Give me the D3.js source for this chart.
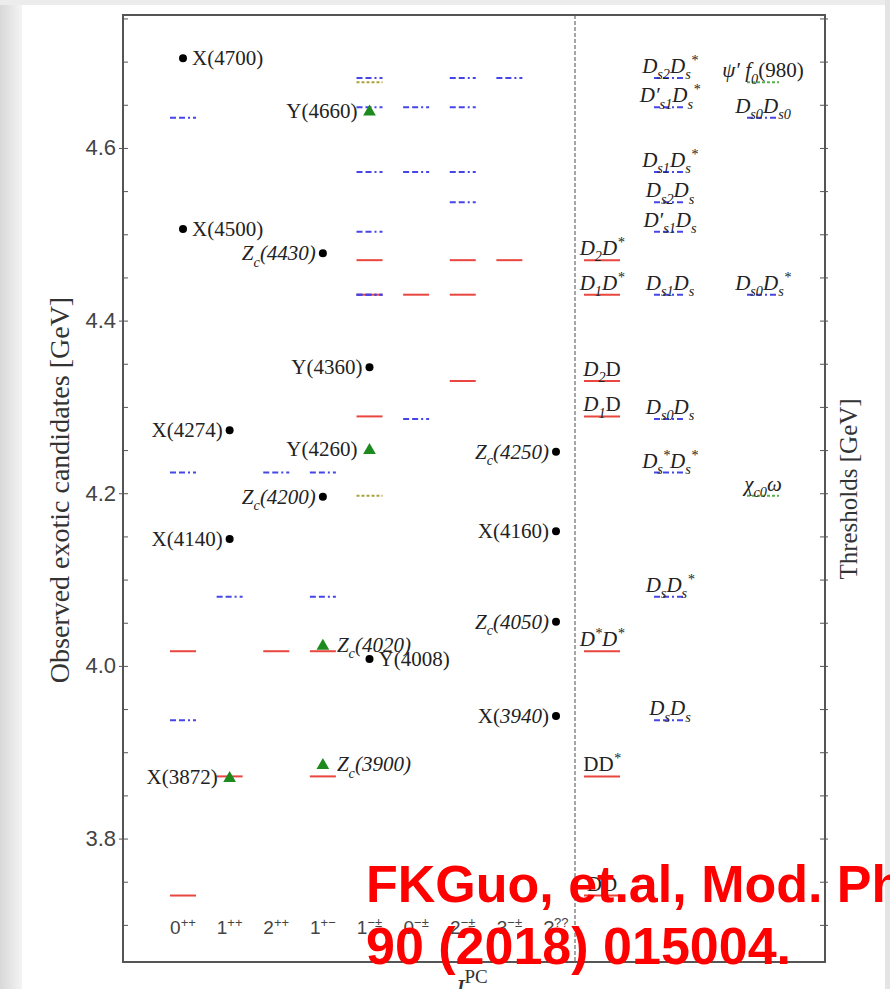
<!DOCTYPE html>
<html>
<head>
<meta charset="UTF-8">
<title>Exotic candidates and thresholds</title>
<script src="https://d3js.org/d3.v7.min.js"></script>
<style>
  body { margin: 0; background: #fff; }
  svg text { font-family: "Liberation Serif", "Times New Roman", serif; fill: #222; }
  .tick text { font-family: "Liberation Sans", Arial, sans-serif; fill: #444; }
  .jpc { font-family: "Liberation Sans", Arial, sans-serif; fill: #444; }
  .stamp { font-family: "Liberation Sans", Arial, sans-serif; font-weight: bold; fill: #f00; }
</style>
</head>
<body>
<svg id="chart" width="890" height="989"></svg>
<script>
// J^PC columns of the left panel
var columns = ["0++", "1++", "2++", "1+-", "1-±", "0-±", "2-±", "3-±", "???"];
var colMain = ["0", "1", "2", "1", "1", "0", "2", "3", "?"];
var colSup  = ["++", "++", "++", "+−", "−±", "−±", "−±", "−±", "??"];

// observed candidates (GeV)
var candName  = ["X(4700)", "X(4500)", "~Z_c(4430)~", "Y(4660)", "Y(4360)", "Y(4260)", "X(4274)", "~Z_c(4200)~", "X(4140)",
                 "~Z_c(4250)~", "X(4160)", "~Z_c(4050)~", "X(~3940~)", "~Z_c(4020)~", "Y(4008)", "X(3872)", "~Z_c(3900)~"];
var candMass  = [4.704, 4.506, 4.478, 4.643, 4.346, 4.251, 4.273, 4.196, 4.147,
                 4.248, 4.156, 4.051, 3.942, 4.024, 4.008, 3.871, 3.886];
var candJPC   = ["0++", "0++", "1+-", "1-±", "1-±", "1-±", "1++", "1+-", "1++",
                 "???", "???", "???", "???", "1+-", "1-±", "1++", "1+-"];
var candShape = ["dot", "dot", "dot", "tri", "dot", "tri", "dot", "dot", "dot",
                 "dot", "dot", "dot", "dot", "tri", "dot", "tri", "tri"];
var candSide  = ["right", "right", "left", "left", "left", "left", "left", "left", "left",
                 "left", "left", "left", "left", "right", "right", "left", "right"];

// thresholds (GeV)
var thrLabel = ["~DD~", "~DD~^*", "D^*D^*", "D_1~D~", "D_2~D~", "D_1D^*", "D_2D^*",
                "D_sD_s", "D_sD_s^*", "D_s^*D_s^*", "D_{s0}D_s", "D_{s1}D_s", "D′_{s1}D_s", "D_{s2}D_s",
                "D_{s1}D_s^*", "D′_{s1}D_s^*", "D_{s2}D_s^*",
                "D_{s0}D_{s0}", "D_{s0}D_s^*", "ψ′ f_0~(980)~", "χ_{c0}ω"];
var thrMass  = [3.734, 3.872, 4.017, 4.289, 4.330, 4.430, 4.470,
                3.937, 4.080, 4.224, 4.286, 4.430, 4.503, 4.537, 4.572, 4.647, 4.681,
                4.635, 4.430, 4.676, 4.197];
var thrKind  = ["red", "red", "red", "red", "red", "red", "red",
                "blue", "blue", "blue", "blue", "blue", "blue", "blue", "blue", "blue", "blue",
                "blue", "blue", "green", "green"];
var thrCol   = [0, 0, 0, 0, 0, 0, 0, 1, 1, 1, 1, 1, 1, 1, 1, 1, 1, 2, 2, 2, 2];
var thrJPC   = [["0++"], ["1++", "1+-"], ["0++", "2++", "1+-"], ["1-±"], ["2-±"], ["1-±", "0-±", "2-±"], ["1-±", "2-±", "3-±"],
                ["0++"], ["1++", "1+-"], ["0++", "2++", "1+-"], ["0-±"], ["1-±"], ["1-±"], ["2-±"],
                ["0-±", "1-±", "2-±"], ["0-±", "1-±", "2-±"], ["1-±", "2-±", "3-±"],
                ["0++"], ["1-±"], ["1-±"], ["1-±"]];

var majorTicks = [3.8, 4.0, 4.2, 4.4, 4.6];

var svg = d3.select("#chart");
var plotL = 123, plotR = 825, plotT = 15, plotB = 962;

var y = d3.scaleLinear().domain([3.657, 4.754]).range([plotB, plotT]);
var x = d3.scalePoint().domain(columns).range([183, 556]);
var xr = d3.scaleOrdinal().domain([0, 1, 2]).range([602, 670, 763]);

var styles = {
  red:   { stroke: "#e8463f", dash: null },
  blue:  { stroke: "#4646e8", dash: "6,3,6,3,2,3" },
  green: { stroke: "#a9a33c", dash: "3,2" }
};

// screenshot borders
svg.append("rect").attr("width", 890).attr("height", 989).attr("fill", "#fff");
var grad = svg.append("defs").append("linearGradient").attr("id", "edge");
grad.append("stop").attr("offset", "0%").attr("stop-color", "#d8d8d8");
grad.append("stop").attr("offset", "100%").attr("stop-color", "#f4f4f4");
svg.append("rect").attr("width", 22).attr("height", 989).attr("fill", "url(#edge)");
svg.append("rect").attr("width", 890).attr("height", 5).attr("fill", "#ececec");
svg.append("rect").attr("x", 885).attr("width", 5).attr("height", 989).attr("fill", "#e4e4e4");

// mini markup: _x sub, ^x sup, {..} groups, ~ toggles italic
function parse(s, italic) {
  var segs = [], i = 0;
  while (i < s.length) {
    var c = s[i];
    if (c === "~") { italic = !italic; i++; continue; }
    if (c === "_" || c === "^") {
      var t;
      if (s[i + 1] === "{") { var j = s.indexOf("}", i); t = s.slice(i + 2, j); i = j + 1; }
      else { t = s[i + 1]; i += 2; }
      segs.push({ t: t, shift: c, italic: italic });
      continue;
    }
    var k = i;
    while (k < s.length && "~_^".indexOf(s[k]) < 0) k++;
    segs.push({ t: s.slice(i, k), shift: null, italic: italic });
    i = k;
  }
  return segs;
}

function rich(text, markup, fs, italic) {
  var prev = 0;
  text.style("font-size", fs + "px");
  parse(markup, italic).forEach(function (s) {
    var off = s.shift === "_" ? 0.3 : s.shift === "^" ? -0.38 : 0;
    text.append("tspan")
      .attr("dy", ((off - prev) * fs).toFixed(1))
      .style("font-size", (s.shift ? fs * 0.68 : fs) + "px")
      .style("font-style", s.italic ? "italic" : "normal")
      .text(s.t);
    prev = off;
  });
  return text;
}

function drawLeft(i) {
  var st = styles[thrKind[i]];
  thrJPC[i].forEach(function (c) {
    svg.append("line")
      .attr("x1", x(c) - 13).attr("x2", x(c) + 13)
      .attr("y1", y(thrMass[i])).attr("y2", y(thrMass[i]))
      .attr("stroke", st.stroke).attr("stroke-width", 2)
      .attr("stroke-dasharray", st.dash);
  });
}

// threshold lines on the left panel, red first so dashed ones sit on top
thrMass.forEach(function (m, i) { if (thrKind[i] === "red") drawLeft(i); });
thrMass.forEach(function (m, i) { if (thrKind[i] !== "red") drawLeft(i); });

// threshold lines and names on the right panel
thrMass.forEach(function (m, i) {
  var st = styles[thrKind[i]];
  var cx = xr(thrCol[i]), half = thrCol[i] === 0 ? 18 : 16;
  svg.append("line")
    .attr("x1", cx - half).attr("x2", cx + half)
    .attr("y1", y(m)).attr("y2", y(m))
    .attr("stroke", thrKind[i] === "green" ? "#58b04f" : st.stroke)
    .attr("stroke-width", 2)
    .attr("stroke-dasharray", st.dash);
  rich(svg.append("text").attr("x", cx).attr("y", y(m) - 5).attr("text-anchor", "middle"),
    thrLabel[i], 21, true);
});

// candidates
candMass.forEach(function (m, i) {
  var cx = x(candJPC[i]), cy = y(m);
  if (candShape[i] === "dot") {
    svg.append("circle").attr("cx", cx).attr("cy", cy).attr("r", 4).attr("fill", "#000");
  } else {
    svg.append("path")
      .attr("d", d3.symbol(d3.symbolTriangle, 70)())
      .attr("transform", "translate(" + cx + "," + (cy + 1) + ")")
      .attr("fill", "#1c8a1c");
  }
  var r = candSide[i] === "right";
  var gap = candShape[i] === "tri" ? 12 : 7;
  rich(svg.append("text")
      .attr("x", r ? cx + gap + 2 : cx - gap).attr("y", cy + 7)
      .attr("text-anchor", r ? "start" : "end"),
    candName[i], 21, false);
});

// separator between panels
svg.append("line")
  .attr("x1", 575).attr("x2", 575).attr("y1", plotT).attr("y2", plotB)
  .attr("stroke", "#888").attr("stroke-width", 1.5).attr("stroke-dasharray", "4,2");

// axes
var minor = d3.range(3.70, 4.76, 0.05);
svg.append("g").attr("transform", "translate(" + plotL + ",0)")
  .call(d3.axisRight(y).tickValues(minor).tickSize(5).tickFormat(""))
  .call(function (g) { g.select(".domain").remove(); g.selectAll("line").attr("stroke", "#555"); });
svg.append("g").attr("transform", "translate(" + plotL + ",0)")
  .call(d3.axisLeft(y).tickValues(majorTicks).tickSize(4).tickPadding(3).tickFormat(d3.format(".1f")))
  .call(function (g) {
    g.select(".domain").remove();
    g.selectAll("line").attr("stroke", "#555");
    g.selectAll("text").style("font-size", "22px");
  });
svg.append("g").attr("transform", "translate(" + plotR + ",0)")
  .call(d3.axisLeft(y).tickValues(minor).tickSize(5).tickFormat(""))
  .call(function (g) { g.select(".domain").remove(); g.selectAll("line").attr("stroke", "#555"); });
svg.append("g").attr("transform", "translate(" + plotR + ",0)")
  .call(d3.axisRight(y).tickValues(minor).tickSize(3).tickFormat(""))
  .call(function (g) { g.select(".domain").remove(); g.selectAll("line").attr("stroke", "#555"); });

svg.append("rect")
  .attr("x", plotL).attr("y", plotT).attr("width", plotR - plotL).attr("height", plotB - plotT)
  .attr("fill", "none").attr("stroke", "#555").attr("stroke-width", 2);

// J^PC labels inside the frame
columns.forEach(function (c, i) {
  var t = svg.append("text").attr("class", "jpc").attr("x", x(c)).attr("y", 934)
    .attr("text-anchor", "middle").style("font-size", "19px");
  t.append("tspan").text(colMain[i]);
  t.append("tspan").attr("dy", -7).style("font-size", "13px").text(colSup[i]);
});

// axis titles
svg.append("text")
  .attr("transform", "translate(69,490) rotate(-90)")
  .attr("text-anchor", "middle").style("font-size", "28px").style("fill", "#333")
  .text("Observed exotic candidates [GeV]");
svg.append("text")
  .attr("transform", "translate(857,489) rotate(-90)")
  .attr("text-anchor", "middle").style("font-size", "25px").style("fill", "#333")
  .text("Thresholds [GeV]");
var jt = svg.append("text").attr("x", 452).attr("y", 998).style("font-size", "28px").style("fill", "#333");
jt.append("tspan").style("font-style", "italic").text("J");
jt.append("tspan").attr("dy", -15).style("font-size", "19px").text("PC");

// reference stamp
svg.append("text").attr("class", "stamp").attr("x", 366).attr("y", 902)
  .style("font-size", "52px").text("FKGuo, et.al, Mod. Phys.");
svg.append("text").attr("class", "stamp").attr("x", 366).attr("y", 964)
  .style("font-size", "52px").text("90 (2018) 015004.");
</script>
</body>
</html>
